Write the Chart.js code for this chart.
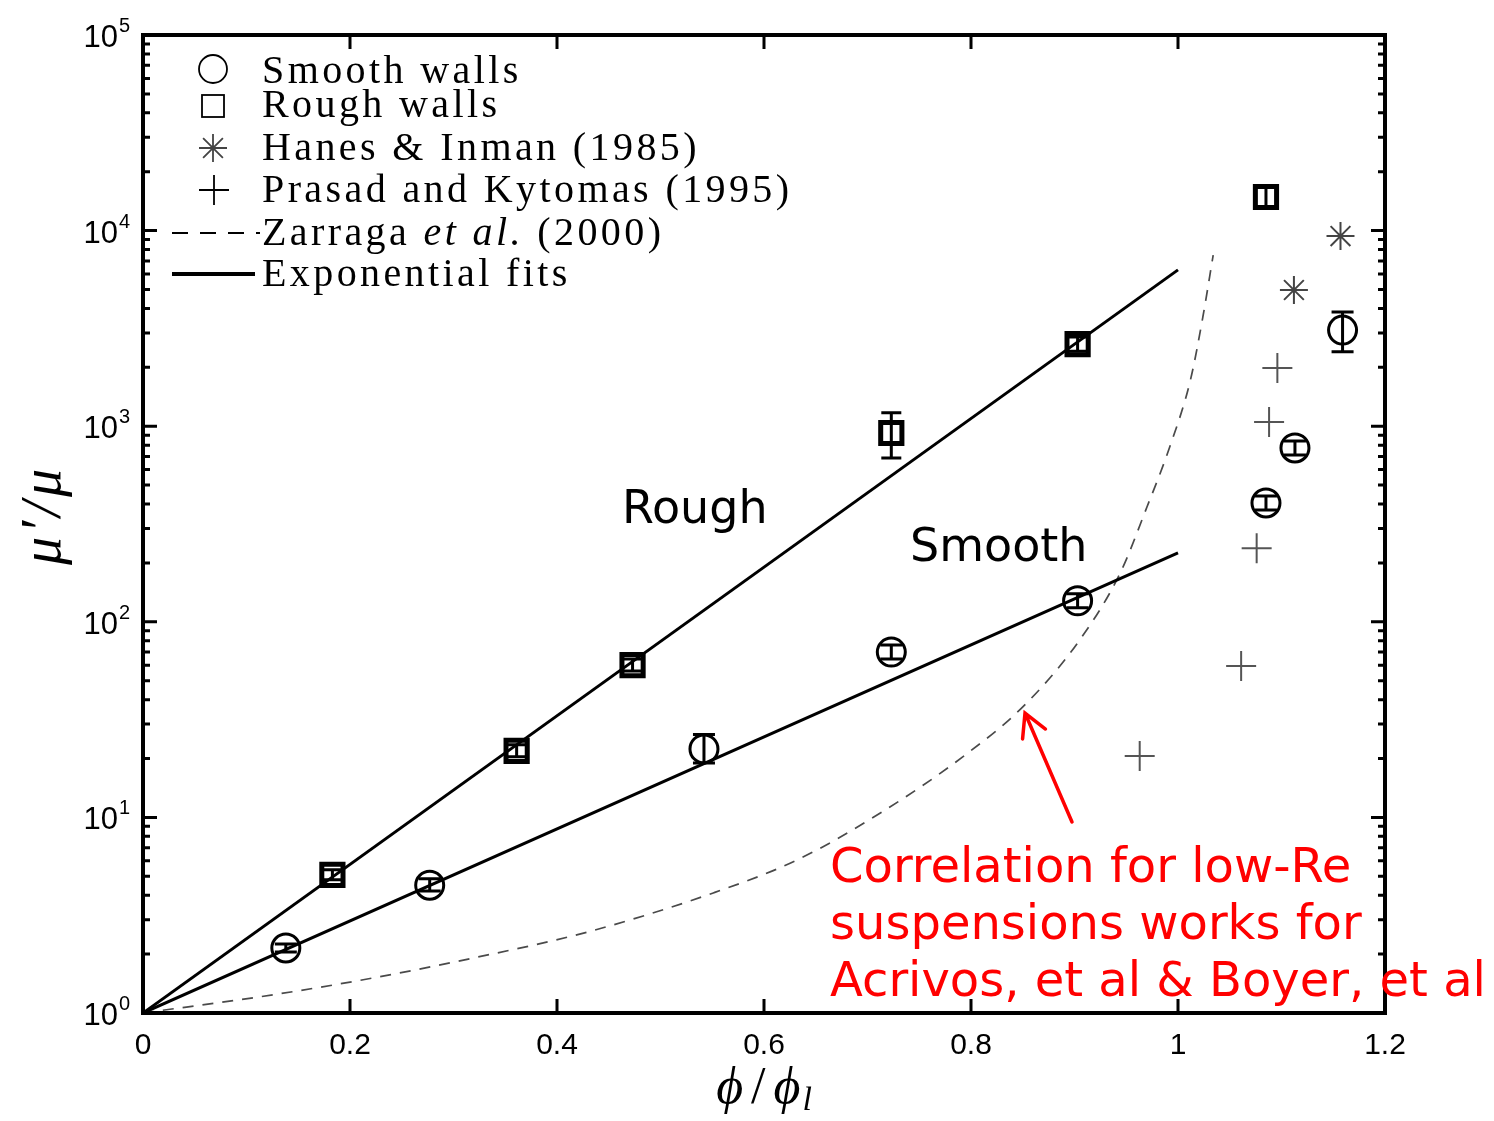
<!DOCTYPE html>
<html>
<head>
<meta charset="utf-8">
<script src="https://cdn.jsdelivr.net/npm/chart.js@4"></script>
<style>
  body { margin: 0; background: #fff; }
  #wrap { width: 1494px; height: 1121px; }
</style>
</head>
<body>
<div id="wrap"><canvas id="viscChart" width="1494" height="1121"></canvas></div>
<script>
// smooth wall measurements (phi/phi_l, mu'/mu, error bar low/high)
const smoothX  = [0.138, 0.277, 0.542, 0.723, 0.903, 1.085, 1.113, 1.159];
const smoothY  = [2.15, 4.5, 22.4, 70, 128, 405, 774, 3100];
const smoothLo = [2.05, 4.2, 19, 64.5, 118, 373, 713, 2400];
const smoothHi = [2.25, 4.85, 26.5, 76, 139, 440, 840, 3840];

// rough wall measurements
const roughX  = [0.183, 0.361, 0.473, 0.723, 0.903, 1.085];
const roughY  = [5.08, 21.9, 60, 923, 2630, 14850];
const roughLo = [4.8, 20.4, 56, 688, 2420, 13200];
const roughHi = [5.4, 23.5, 64.5, 1170, 2860, 16700];

// Hanes & Inman (1985)
const hanesX = [1.112, 1.157];
const hanesY = [4970, 9380];

// Prasad and Kytomas (1995)
const prasadX = [0.963, 1.061, 1.076, 1.088, 1.096];
const prasadY = [20.6, 59.4, 238, 1050, 1985];

// exponential fits (straight in log space)
const fitX = [0, 1];
const roughFitY = [1, 6300];
const smoothFitY = [1, 225];

// Zarraga et al. (2000) correlation
const zarX = [0, 0.126, 0.222, 0.319, 0.429, 0.551, 0.632, 0.712, 0.792, 0.852, 0.905, 0.944, 0.970, 0.992, 1.012, 1.024, 1.034];
const zarY = [1, 1.24, 1.51, 1.91, 2.59, 4.11, 6.06, 10.5, 20.4, 37.6, 80.7, 177, 386, 783, 1722, 3615, 7500];

// axis ticks
const xTicks = [0, 0.2, 0.4, 0.6, 0.8, 1, 1.2];
const xTickText = ['0', '0.2', '0.4', '0.6', '0.8', '1', '1.2'];
const yExps = [0, 1, 2, 3, 4, 5];

const pts = (xs, ys) => xs.map((x, i) => ({ x: x, y: ys[i] }));

function drawRuns(ctx, x, y, runs) {
    runs.forEach(r => {
        ctx.font = r.font;
        ctx.fillText(r.text, x, y);
        x += ctx.measureText(r.text).width;
    });
}

const overlay = {
    id: 'overlay',
    afterDatasetsDraw(chart) {
        // error bars
        const ctx = chart.ctx;
        const ys = chart.scales.y;
        ctx.save();
        ctx.strokeStyle = '#000';
        ctx.lineWidth = 3;
        chart.data.datasets.forEach((ds, di) => {
            if (!ds.errLo) return;
            const meta = chart.getDatasetMeta(di);
            meta.data.forEach((p, i) => {
                const y1 = ys.getPixelForValue(ds.errLo[i]);
                const y2 = ys.getPixelForValue(ds.errHi[i]);
                const cw = ds.capWidth;
                ctx.beginPath();
                ctx.moveTo(p.x, y1); ctx.lineTo(p.x, y2);
                ctx.moveTo(p.x - cw, y1); ctx.lineTo(p.x + cw, y1);
                ctx.moveTo(p.x - cw, y2); ctx.lineTo(p.x + cw, y2);
                ctx.stroke();
            });
        });
        ctx.restore();
    },
    afterDraw(chart) {
        const ctx = chart.ctx;
        const { left, right, top, bottom } = chart.chartArea;
        const xs = chart.scales.x, ys = chart.scales.y;
        ctx.save();

        // box + ticks
        ctx.strokeStyle = '#000';
        ctx.lineWidth = 4;
        ctx.strokeRect(left, top, right - left, bottom - top);
        ctx.lineWidth = 3;
        ctx.beginPath();
        xTicks.forEach(v => {
            const px = xs.getPixelForValue(v);
            ctx.moveTo(px, bottom); ctx.lineTo(px, bottom - 14);
            ctx.moveTo(px, top); ctx.lineTo(px, top + 14);
        });
        yExps.forEach(e => {
            for (let m = 1; m <= 9; m++) {
                if (e === 5 && m > 1) break;
                const py = ys.getPixelForValue(m * Math.pow(10, e));
                const len = m === 1 ? 14 : 7;
                ctx.moveTo(left, py); ctx.lineTo(left + len, py);
                ctx.moveTo(right, py); ctx.lineTo(right - len, py);
            }
        });
        ctx.stroke();

        // tick labels
        ctx.fillStyle = '#000';
        ctx.font = '30px "Liberation Sans"';
        ctx.textAlign = 'center';
        ctx.textBaseline = 'alphabetic';
        xTicks.forEach((v, i) => {
            ctx.fillText(xTickText[i], xs.getPixelForValue(v), bottom + 41);
        });
        yExps.forEach(e => {
            const py = ys.getPixelForValue(Math.pow(10, e));
            ctx.textAlign = 'right';
            ctx.font = '31px "Liberation Sans"';
            ctx.fillText('10', 118, py + 12);
            ctx.textAlign = 'left';
            ctx.font = '20px "Liberation Sans"';
            ctx.fillText(String(e), 119, py - 3);
        });

        // axis titles
        ctx.textAlign = 'left';
        const xl = [
            { text: 'ϕ', font: 'italic 52px "Liberation Serif"' },
            { text: '/', font: '52px "Liberation Serif"' },
            { text: 'ϕ', font: 'italic 52px "Liberation Serif"' },
        ];
        let w = 0;
        xl.forEach(r => { ctx.font = r.font; w += ctx.measureText(r.text).width + 8; });
        ctx.font = 'italic 34px "Liberation Serif"';
        w += ctx.measureText('l').width;
        let sx = 767 - w / 2;
        xl.forEach(r => { ctx.font = r.font; ctx.fillText(r.text, sx, 1103); sx += ctx.measureText(r.text).width + 8; });
        ctx.font = 'italic 34px "Liberation Serif"';
        ctx.fillText('l', sx - 6, 1110);

        ctx.save();
        ctx.translate(60, 515);
        ctx.rotate(-Math.PI / 2);
        ctx.textAlign = 'center';
        ctx.letterSpacing = '4px';
        ctx.font = 'italic 56px "Liberation Serif"';
        ctx.fillText('μ′/μ', 0, 0);
        ctx.restore();

        // legend
        ctx.letterSpacing = '3.4px';
        ctx.textAlign = 'left';
        const lf = '40px "Liberation Serif"';
        const lfi = 'italic 40px "Liberation Serif"';
        const tx = 262;
        ctx.lineWidth = 1.8;
        ctx.strokeStyle = '#000';
        ctx.beginPath(); ctx.arc(213, 69, 14, 0, 2 * Math.PI); ctx.stroke();
        drawRuns(ctx, tx, 83, [{ text: 'Smooth walls', font: lf }]);
        ctx.strokeRect(202, 95, 22, 22);
        drawRuns(ctx, tx, 117, [{ text: 'Rough walls', font: lf }]);
        ctx.strokeStyle = '#444';
        ctx.beginPath();
        for (let k = 0; k < 4; k++) {
            const a = k * Math.PI / 4;
            ctx.moveTo(213 - 14 * Math.cos(a), 148 - 14 * Math.sin(a));
            ctx.lineTo(213 + 14 * Math.cos(a), 148 + 14 * Math.sin(a));
        }
        ctx.stroke();
        drawRuns(ctx, tx, 160, [{ text: 'Hanes & Inman (1985)', font: lf }]);
        ctx.strokeStyle = '#000';
        ctx.beginPath();
        ctx.moveTo(199, 190); ctx.lineTo(229, 190);
        ctx.moveTo(214, 175); ctx.lineTo(214, 205);
        ctx.stroke();
        drawRuns(ctx, tx, 202, [{ text: 'Prasad and Kytomas (1995)', font: lf }]);
        ctx.lineWidth = 2;
        ctx.setLineDash([16, 12]);
        ctx.beginPath(); ctx.moveTo(172, 233); ctx.lineTo(260, 233); ctx.stroke();
        ctx.setLineDash([]);
        drawRuns(ctx, tx, 245, [
            { text: 'Zarraga ', font: lf }, { text: 'et al.', font: lfi }, { text: ' (2000)', font: lf }
        ]);
        ctx.lineWidth = 4;
        ctx.beginPath(); ctx.moveTo(172, 274); ctx.lineTo(255, 274); ctx.stroke();
        drawRuns(ctx, tx, 286, [{ text: 'Exponential fits', font: lf }]);
        ctx.letterSpacing = '0px';

        // curve names
        ctx.fillStyle = '#000';
        ctx.font = '46px "DejaVu Sans"';
        ctx.fillText('Rough', 622, 523);
        ctx.fillText('Smooth', 910, 561);

        // red note + arrow
        ctx.fillStyle = '#ff0000';
        ctx.font = '48px "DejaVu Sans"';
        ctx.fillText('Correlation for low-Re', 830, 882);
        ctx.fillText('suspensions works for', 830, 939);
        ctx.fillText('Acrivos, et al & Boyer, et al', 830, 996);
        ctx.strokeStyle = '#ff0000';
        ctx.lineWidth = 3.5;
        ctx.lineCap = 'round';
        const ax0 = 1072, ay0 = 822, ax1 = 1025, ay1 = 713;
        const ang = Math.atan2(ay1 - ay0, ax1 - ax0);
        ctx.beginPath();
        ctx.moveTo(ax0, ay0); ctx.lineTo(ax1, ay1);
        ctx.moveTo(ax1 - 26 * Math.cos(ang - 0.5), ay1 - 26 * Math.sin(ang - 0.5));
        ctx.lineTo(ax1, ay1);
        ctx.lineTo(ax1 - 26 * Math.cos(ang + 0.5), ay1 - 26 * Math.sin(ang + 0.5));
        ctx.stroke();
        ctx.restore();
    }
};

new Chart(document.getElementById('viscChart'), {
    type: 'scatter',
    data: {
        datasets: [
            { type: 'line', data: pts(fitX, roughFitY), borderColor: '#000', borderWidth: 3, pointRadius: 0, fill: false },
            { type: 'line', data: pts(fitX, smoothFitY), borderColor: '#000', borderWidth: 3, pointRadius: 0, fill: false },
            { type: 'line', data: pts(zarX, zarY), borderColor: '#4a4a4a', borderWidth: 1.7, borderDash: [11, 9],
              cubicInterpolationMode: 'monotone', pointRadius: 0, fill: false },
            { data: pts(smoothX, smoothY), errLo: smoothLo, errHi: smoothHi, capWidth: 11, pointStyle: 'circle', pointRadius: 14,
              borderColor: '#000', borderWidth: 3, backgroundColor: 'rgba(0,0,0,0)' },
            { data: pts(roughX, roughY), errLo: roughLo, errHi: roughHi, capWidth: 10, pointStyle: 'rect', pointRadius: 15,
              borderColor: '#000', borderWidth: 5, backgroundColor: 'rgba(0,0,0,0)' },
            { data: pts(hanesX, hanesY), pointStyle: 'star', pointRadius: 14, borderColor: '#444', borderWidth: 2 },
            { data: pts(prasadX, prasadY), pointStyle: 'cross', pointRadius: 15, borderColor: '#555', borderWidth: 2 }
        ]
    },
    options: {
        responsive: false,
        devicePixelRatio: 1,
        animation: false,
        layout: { padding: { left: 143, right: 109, top: 35, bottom: 108 } },
        plugins: { legend: { display: false }, tooltip: { enabled: false } },
        scales: {
            x: { type: 'linear', min: 0, max: 1.2, display: false },
            y: { type: 'logarithmic', min: 1, max: 100000, display: false }
        }
    },
    plugins: [overlay]
});
</script>
</body>
</html>
